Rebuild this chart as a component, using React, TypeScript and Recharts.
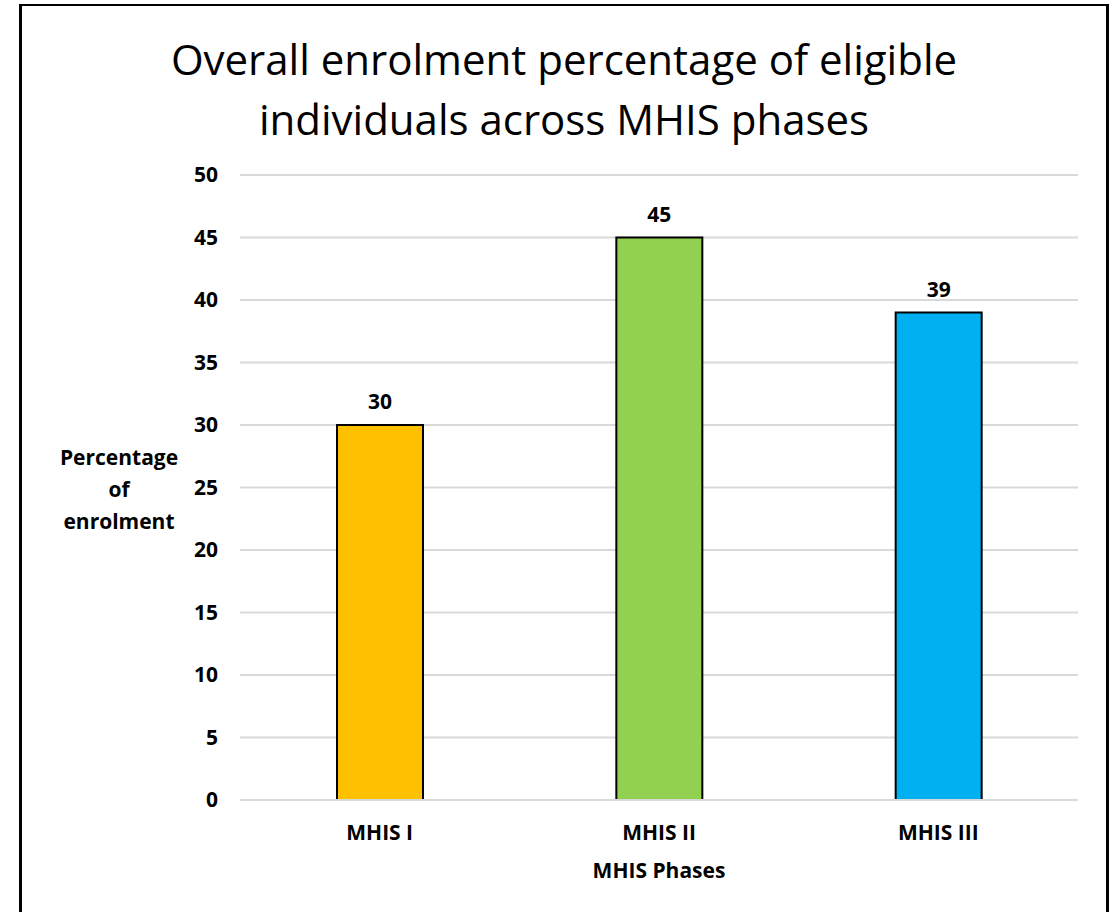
import React from "react";
import { Bar, BarChart, CartesianGrid, Cell, LabelList, XAxis, YAxis } from "recharts";

const phases = ["MHIS I", "MHIS II", "MHIS III"];
const enrolment = [30, 45, 39];
const phaseColors = ["#FFC000", "#92D050", "#00B0F0"];
const yTicks = [0, 5, 10, 15, 20, 25, 30, 35, 40, 45, 50];
const titleLines = ["Overall enrolment percentage of eligible", "individuals across MHIS phases"];
const yLabelLines = ["Percentage", "of", "enrolment"];

const data = phases.map((phase, i) => ({ phase, value: enrolment[i] }));

const FONT = "'Open Sans', 'DejaVu Sans', sans-serif";
const TICK = { fill: "#000", fontSize: 21, fontWeight: 700, fontFamily: FONT };
const GRID = "#d9d9d9";

function YAxisTitle() {
  return (
    <text x={119} y={458} textAnchor="middle" fill="#000" fontSize={21} fontWeight={700} fontFamily={FONT}>
      {yLabelLines.map((line, i) => (
        <tspan key={line} x={119} dy={i === 0 ? 7 : 32}>
          {line}
        </tspan>
      ))}
    </text>
  );
}

export default function App() {
  return (
    <div
      style={{
        position: "fixed",
        left: 0,
        top: 0,
        width: 1113,
        height: 912,
        overflow: "hidden",
        background: "#fff"
      }}
    >
      <div
        style={{
          position: "absolute",
          left: 19,
          top: 4,
          width: 1084,
          height: 960,
          borderLeft: "3px solid #000",
          borderRight: "3px solid #000",
          borderTop: "2px solid #000"
        }}
      />
      <div
        style={{
          position: "absolute",
          left: 20,
          width: 1088,
          top: 29,
          textAlign: "center",
          fontFamily: FONT,
          fontSize: 42,
          lineHeight: "60px",
          color: "#000"
        }}
      >
        {titleLines.map((line) => (
          <div key={line}>{line}</div>
        ))}
      </div>
      <div style={{ position: "absolute", left: 0, top: 0 }}>
        <BarChart
          width={1113}
          height={912}
          data={data}
          margin={{ top: 175, right: 35, left: 0, bottom: 82 }}
        >
          <CartesianGrid stroke={GRID} strokeWidth={2} vertical={false} />
          <XAxis
            dataKey="phase"
            height={30}
            axisLine={{ stroke: GRID, strokeWidth: 2 }}
            tickLine={false}
            tickSize={0}
            tickMargin={25}
            tick={TICK}
            label={{
              value: "MHIS Phases",
              position: "bottom",
              offset: 33,
              fill: "#000",
              fontSize: 21,
              fontWeight: 700,
              fontFamily: FONT
            }}
          />
          <YAxis
            width={240}
            domain={[0, 50]}
            ticks={yTicks}
            axisLine={false}
            tickLine={false}
            tickSize={0}
            tickMargin={22}
            tick={TICK}
            label={<YAxisTitle />}
          />
          <Bar
            dataKey="value"
            barSize={86}
            stroke="#000"
            strokeWidth={2}
            isAnimationActive={false}
          >
            {data.map((d, i) => (
              <Cell key={d.phase} fill={phaseColors[i]} />
            ))}
            <LabelList
              dataKey="value"
              position="top"
              offset={16}
              fill="#000"
              fontSize={21}
              fontWeight={700}
              fontFamily={FONT}
            />
          </Bar>
        </BarChart>
      </div>
    </div>
  );
}
